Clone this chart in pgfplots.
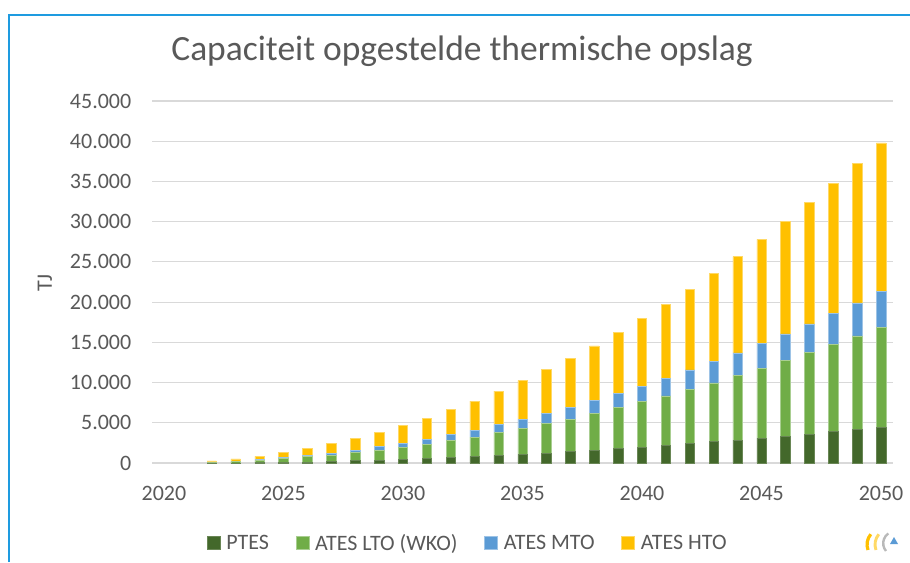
\documentclass[border=0pt]{standalone}
\usepackage{pgfplots}
\usepackage{pgfplotstable}
\pgfplotsset{compat=1.18}
\usepackage{fontspec}
\setmainfont{Carlito}
\definecolor{ptes}{HTML}{43682B}
\definecolor{lto}{HTML}{70AD47}
\definecolor{mto}{HTML}{5B9BD5}
\definecolor{hto}{HTML}{FFC000}
\definecolor{txt}{HTML}{595959}
\definecolor{gridc}{HTML}{D9D9D9}
\definecolor{frame}{HTML}{1E9BE0}
\pgfplotstableread{
year ptes lto mto hto
2022 10 60 20 160
2023 20 150 50 280
2024 50 280 100 400
2025 80 500 120 580
2026 124 666 160 830
2027 207 787 206 1200
2028 331 952 290 1449
2029 373 1242 414 1821
2030 414 1490 496 2237
2031 580 1738 663 2567
2032 704 2070 745 3105
2033 828 2401 870 3601
2034 952 2815 994 4181
2035 1076 3188 1159 4803
2036 1242 3685 1200 5465
2037 1408 4057 1490 6086
2038 1532 4595 1615 6831
2039 1780 5092 1781 7576
2040 1987 5631 1945 8405
2041 2151 6204 2192 9182
2042 2399 6742 2440 10009
2043 2647 7321 2647 10960
2044 2854 8024 2812 11953
2045 3102 8644 3144 12904
2046 3309 9430 3309 13979
2047 3598 10134 3556 15097
2048 3888 10836 3888 16130
2049 4136 11664 4094 17330
2050 4467 12408 4425 18488
}\datatable
\begin{document}
\begin{tikzpicture}[x=0.75pt,y=0.75pt]
\useasboundingbox (0,0) rectangle (910,562);
\draw[frame, line width=1.3pt] (9,0) -- (9,547) -- (910,547);
\begin{axis}[
  at={(114pt,74.25pt)}, anchor=south west,
  scale only axis, width=555.75pt, height=271.5pt,
  ybar stacked, bar width=7.1pt,
  xmin=2019.5, xmax=2050.5, ymin=0, ymax=45000,
  axis line style={draw=none},
  ymajorgrids, grid style={gridc, line width=0.9pt},
  major tick length=0pt,
  ytick={0,5000,...,45000},
  xtick={2020,2025,...,2050},
  scaled y ticks=false,
  /pgf/number format/assume math mode=true,
  yticklabel style={/pgf/number format/1000 sep={.}, /pgf/number format/fixed, xshift=-12pt},
  xticklabel style={/pgf/number format/1000 sep={}, yshift=-14pt},
  ticklabel style={font=\fontsize{16.5}{20}\selectfont, text=txt},
  legend style={at={(0.4265,-0.221)}, anchor=center, draw=none, fill=none,
    legend columns=4, font=\fontsize{16.5}{20}\selectfont, text=txt,
    /tikz/every odd column/.append style={column sep=2.5pt},
    /tikz/every even column/.append style={column sep=18pt},
    inner sep=0pt},
  legend image code/.code={\fill[#1] (0pt,-4.9pt) rectangle (9.75pt,4.9pt);},
  clip=false,
]
\addplot[fill=ptes, draw=ptes!80!white, line width=0.4pt] table[x=year,y=ptes]{\datatable};
\addplot[fill=lto, draw=lto!60!white, line width=0.4pt] table[x=year,y=lto]{\datatable};
\addplot[fill=mto, draw=mto!60!white, line width=0.4pt] table[x=year,y=mto]{\datatable};
\addplot[fill=hto, draw=hto!60!white, line width=0.4pt] table[x=year,y=hto]{\datatable};
\legend{PTES, ATES LTO (WKO), ATES MTO, ATES HTO}
\end{axis}
\node[txt, font=\fontsize{26.6}{32}\selectfont] at (462,511) {Capaciteit opgestelde thermische opslag};
\node[txt, rotate=90, font=\fontsize{16.5}{20}\selectfont] at (45,279) {TJ};
% small logo
\draw[hto, line width=2.4pt] (868,12) arc[start angle=200, end angle=140, radius=16];
\draw[hto!60!white, line width=2.2pt] (876,12) arc[start angle=200, end angle=140, radius=16];
\draw[gray!55, line width=1.8pt] (886,11) arc[start angle=220, end angle=125, radius=12];
\fill[mto] (890,18) -- (898,18) -- (894,25) -- cycle;
\end{tikzpicture}
\end{document}
